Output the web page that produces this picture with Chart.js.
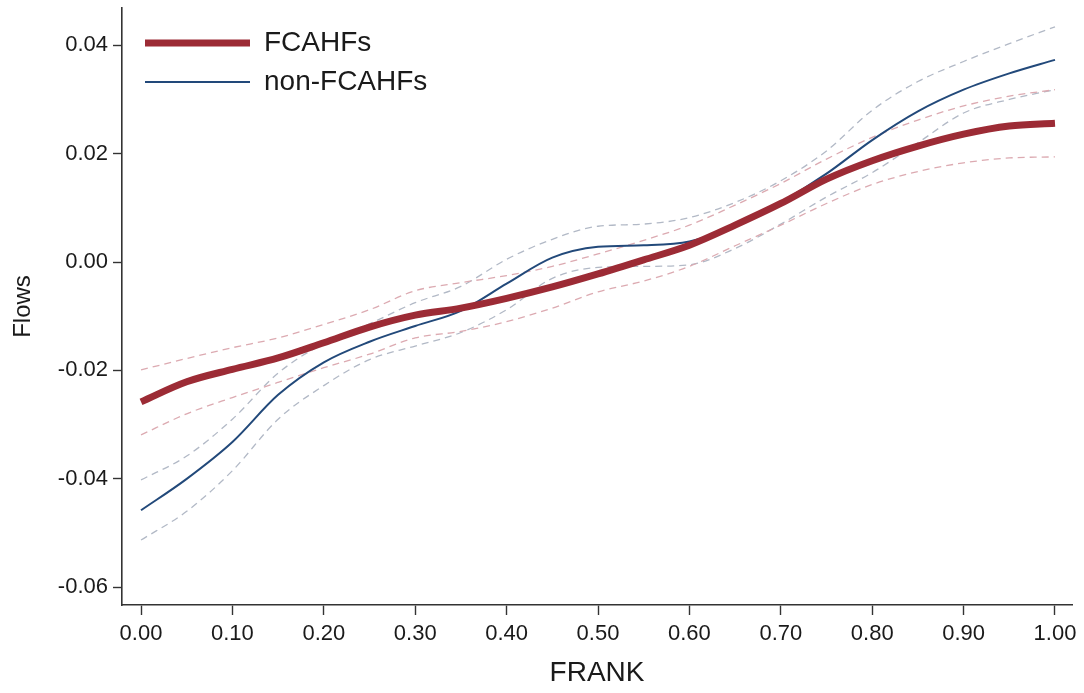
<!DOCTYPE html>
<html>
<head>
<meta charset="utf-8">
<script src="https://cdn.jsdelivr.net/npm/chart.js@4.4.1/dist/chart.umd.min.js"></script>
<style>
  html, body { margin: 0; padding: 0; background: #ffffff; }
  #wrap { position: relative; width: 1084px; height: 693px; }
</style>
</head>
<body>
<div id="wrap"><canvas id="c" width="1084" height="693"></canvas></div>
<script>
// ---- Data ----
const frank = [0.00, 0.05, 0.10, 0.15, 0.20, 0.25, 0.30, 0.35, 0.40, 0.45, 0.50,
               0.55, 0.60, 0.65, 0.70, 0.75, 0.80, 0.85, 0.90, 0.95, 1.00];

const fcahfs = [-0.0258, -0.0221, -0.0198, -0.0177, -0.0149, -0.0120, -0.0098, -0.0085, -0.0067, -0.0046, -0.0022,
                 0.0004, 0.0031, 0.0068, 0.0108, 0.0153, 0.0187, 0.0214, 0.0236, 0.0251, 0.0256];
const fcahfsHi = [-0.0199, -0.0178, -0.0158, -0.0140, -0.0115, -0.0088, -0.0053, -0.0038, -0.0025, -0.0008, 0.0015,
                   0.0040, 0.0068, 0.0105, 0.0145, 0.0190, 0.0230, 0.0262, 0.0288, 0.0306, 0.0318];
const fcahfsLo = [-0.0319, -0.0280, -0.0250, -0.0222, -0.0195, -0.0170, -0.0140, -0.0128, -0.0110, -0.0085, -0.0055,
                  -0.0035, -0.0008, 0.0030, 0.0068, 0.0108, 0.0143, 0.0167, 0.0183, 0.0192, 0.0194];

const nonFcahfs = [-0.0458, -0.0400, -0.0332, -0.0245, -0.0185, -0.0147, -0.0118, -0.0090, -0.0040, 0.0008, 0.0028,
                    0.0031, 0.0038, 0.0066, 0.0110, 0.0163, 0.0225, 0.0278, 0.0318, 0.0348, 0.0373];
const nonFcahfsHi = [-0.0402, -0.0358, -0.0290, -0.0205, -0.0150, -0.0114, -0.0075, -0.0045, 0.0005, 0.0042, 0.0066,
                      0.0070, 0.0082, 0.0110, 0.0150, 0.0205, 0.0280, 0.0333, 0.0370, 0.0403, 0.0434];
const nonFcahfsLo = [-0.0513, -0.0460, -0.0385, -0.0290, -0.0228, -0.0180, -0.0155, -0.0130, -0.0088, -0.0030, -0.0010,
                     -0.0008, -0.0005, 0.0025, 0.0070, 0.0120, 0.0165, 0.0220, 0.0275, 0.0300, 0.0318];

const xTicks = [0.0, 0.1, 0.2, 0.3, 0.4, 0.5, 0.6, 0.7, 0.8, 0.9, 1.0];
const yTicks = [-0.06, -0.04, -0.02, 0.00, 0.02, 0.04];

// ---- Build chart ----
const pts = (arr) => frank.map((x, i) => ({ x: x, y: arr[i] }));

const RED = '#9c2b35';
const BLUE = '#22497a';
const RED_CI = '#dcaab1';
const BLUE_CI = '#b2b9c6';
const FONT = "'Liberation Sans', Arial, Helvetica, sans-serif";
const INK = '#333333';

const lineBase = { pointRadius: 0, pointHoverRadius: 0, fill: false, cubicInterpolationMode: 'monotone' };

const datasets = [
  Object.assign({ label: 'FCAHFs', data: pts(fcahfs), borderColor: RED, backgroundColor: RED,
    borderWidth: 7, order: 0, inLegend: true, borderCapStyle: 'butt' }, lineBase),
  Object.assign({ label: 'non-FCAHFs', data: pts(nonFcahfs), borderColor: BLUE, backgroundColor: BLUE,
    borderWidth: 2, order: 1, inLegend: true }, lineBase),
  Object.assign({ label: 'FCAHFs upper CI', data: pts(fcahfsHi), borderColor: RED_CI,
    borderWidth: 1.3, borderDash: [7, 5], order: 2 }, lineBase),
  Object.assign({ label: 'FCAHFs lower CI', data: pts(fcahfsLo), borderColor: RED_CI,
    borderWidth: 1.3, borderDash: [7, 5], order: 2 }, lineBase),
  Object.assign({ label: 'non-FCAHFs upper CI', data: pts(nonFcahfsHi), borderColor: BLUE_CI,
    borderWidth: 1.3, borderDash: [7, 5], order: 3 }, lineBase),
  Object.assign({ label: 'non-FCAHFs lower CI', data: pts(nonFcahfsLo), borderColor: BLUE_CI,
    borderWidth: 1.3, borderDash: [7, 5], order: 3 }, lineBase)
];

const legendPlace = {
  id: 'legendPlace',
  afterLayout(chart) {
    const lg = chart.legend;
    if (!lg) return;
    const ca = chart.chartArea;
    const w = lg.width, h = lg.height;
    lg.left = ca.left + 12;
    lg.top = ca.top + 10;
    lg.right = lg.left + w;
    lg.bottom = lg.top + h;
  }
};

const noPad = (s) => { s.paddingTop = 0; s.paddingBottom = 0; s.paddingLeft = 0; s.paddingRight = 0; };

new Chart(document.getElementById('c'), {
  type: 'line',
  data: { datasets: datasets },
  plugins: [legendPlace],
  options: {
    responsive: false,
    animation: false,
    events: [],
    layout: { padding: { left: 0, top: 8, right: 12, bottom: 0 } },
    plugins: {
      tooltip: { enabled: false },
      legend: {
        position: 'chartArea',
        align: 'start',
        labels: {
          filter: (item, data) => !!data.datasets[item.datasetIndex].inLegend,
          usePointStyle: true,
          pointStyle: 'line',
          pointStyleWidth: 105,
          padding: 11,
          color: '#1a1a1a',
          font: { family: FONT, size: 28 }
        }
      }
    },
    scales: {
      x: {
        type: 'linear',
        min: -0.0208,
        max: 1.0186,
        afterBuildTicks: (s) => { s.ticks = xTicks.map(v => ({ value: v })); },
        afterFit: (s) => { s.height = 88; noPad(s); },
        grid: { display: true, drawOnChartArea: false, drawTicks: true, tickLength: 10,
                color: INK, tickColor: INK, tickWidth: 1.4 },
        border: { display: true, color: INK, width: 1.6 },
        ticks: {
          autoSkip: false, maxRotation: 0, padding: 6, color: '#1a1a1a',
          font: { family: FONT, size: 22 },
          callback: (v) => Number(v).toFixed(2)
        },
        title: { display: true, text: 'FRANK', color: '#1a1a1a',
                 font: { family: FONT, size: 28 }, padding: { top: 0, bottom: 3 } }
      },
      y: {
        type: 'linear',
        min: -0.06328,
        max: 0.04687,
        afterBuildTicks: (s) => { s.ticks = yTicks.map(v => ({ value: v })); },
        afterFit: (s) => { s.width = 122; noPad(s); },
        grid: { display: true, drawOnChartArea: false, drawTicks: true, tickLength: 9,
                color: INK, tickColor: INK, tickWidth: 1.4 },
        border: { display: true, color: INK, width: 1.6 },
        ticks: {
          autoSkip: false, padding: 5, color: '#1a1a1a',
          font: { family: FONT, size: 22 },
          callback: (v) => Number(v).toFixed(2)
        },
        title: { display: true, text: 'Flows', color: '#1a1a1a',
                 font: { family: FONT, size: 24 }, padding: { top: 9, bottom: 0 } }
      }
    }
  }
});
</script>
</body>
</html>
